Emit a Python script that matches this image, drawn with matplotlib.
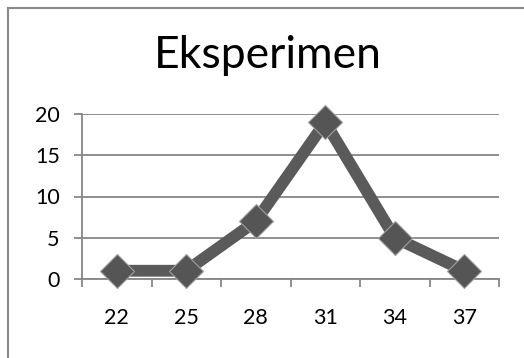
import matplotlib
matplotlib.use("Agg")
import matplotlib.pyplot as plt
from matplotlib.lines import Line2D

# data
categories = ["22", "25", "28", "31", "34", "37"]
values = [1, 1, 7, 19, 5, 1]
y_ticks = [0, 5, 10, 15, 20]

plt.rcParams["font.family"] = ["Lato", "DejaVu Sans"]

fig = plt.figure(figsize=(5.24, 3.58), dpi=100)

# outer chart frame (only top and left edges are visible)
fig.add_artist(Line2D([8 / 524, 8 / 524], [0, 1 - 8 / 358], color="#8a8a8a", lw=1.5))
fig.add_artist(Line2D([8 / 524, 1], [1 - 8 / 358, 1 - 8 / 358], color="#8a8a8a", lw=1.5))

ax = fig.add_axes([82 / 524, 79 / 358, 417 / 524, 165 / 358])

x = list(range(len(categories)))
ax.plot(x, values, color="#5a5a5a", lw=8.5, solid_joinstyle="miter", clip_on=False, zorder=3)
ax.plot(x, values, linestyle="none", marker="D", markersize=17,
        markerfacecolor="#555555", markeredgecolor="#a0a0a0", markeredgewidth=0.8,
        clip_on=False, zorder=4)

ax.set_xlim(-0.5, len(categories) - 0.5)
ax.set_ylim(0, 20)
ax.set_yticks(y_ticks)
ax.set_yticklabels([str(v) for v in y_ticks], fontsize=15.5)
ax.yaxis.grid(True, color="#868686", lw=1.3)
ax.set_axisbelow(True)

# x ticks sit between categories, labels at category centres
ax.set_xticks([i - 0.5 for i in range(len(categories) + 1)])
ax.set_xticklabels([])
ax.set_xticks(x, minor=True)
ax.set_xticklabels(categories, minor=True, fontsize=15.5)
ax.tick_params(axis="x", which="minor", length=0, pad=21)
ax.tick_params(axis="x", which="major", length=6, width=1.3, color="#868686")
ax.tick_params(axis="y", length=6, width=1.3, color="#868686", pad=10)

for side in ["top", "right"]:
    ax.spines[side].set_visible(False)
for side in ["left", "bottom"]:
    ax.spines[side].set_color("#868686")
    ax.spines[side].set_linewidth(1.3)

fig.text(268 / 524, 1 - 55 / 358, "Eksperimen", fontsize=32, ha="center", va="center")

fig.savefig("out.png", dpi=100)
